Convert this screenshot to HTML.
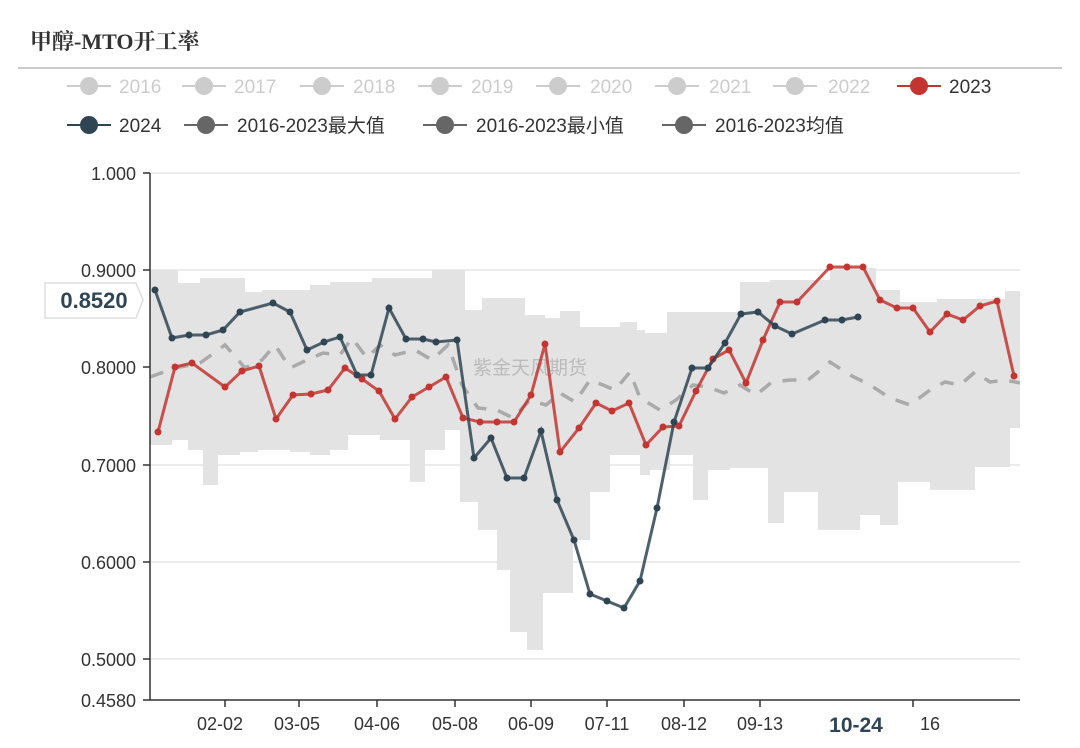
<!DOCTYPE html>
<html><head><meta charset="utf-8"><style>
body{margin:0;background:#fff;}
svg text{font-family:"Liberation Sans","Noto Sans CJK SC",sans-serif;}
</style></head><body>
<svg width="1080" height="743" viewBox="0 0 1080 743" xmlns="http://www.w3.org/2000/svg">
<text x="30" y="49" font-size="22" font-weight="bold" fill="#333" style="font-family:'Liberation Serif','Noto Serif CJK SC',serif">甲醇-MTO开工率</text>
<line x1="18" y1="68" x2="1062" y2="68" stroke="#bbb" stroke-width="1.5"/>
<g font-size="19" fill="#ccc">
<g><line x1="67" y1="86" x2="111" y2="86" stroke="#ccc" stroke-width="2"/><circle cx="89" cy="86" r="9" fill="#ccc"/><text x="119" y="93">2016</text></g>
<g><line x1="182" y1="86" x2="226" y2="86" stroke="#ccc" stroke-width="2"/><circle cx="204" cy="86" r="9" fill="#ccc"/><text x="234" y="93">2017</text></g>
<g><line x1="300" y1="86" x2="344" y2="86" stroke="#ccc" stroke-width="2"/><circle cx="322" cy="86" r="9" fill="#ccc"/><text x="353" y="93">2018</text></g>
<g><line x1="418" y1="86" x2="462" y2="86" stroke="#ccc" stroke-width="2"/><circle cx="440" cy="86" r="9" fill="#ccc"/><text x="471" y="93">2019</text></g>
<g><line x1="536" y1="86" x2="580" y2="86" stroke="#ccc" stroke-width="2"/><circle cx="558" cy="86" r="9" fill="#ccc"/><text x="590" y="93">2020</text></g>
<g><line x1="655" y1="86" x2="699" y2="86" stroke="#ccc" stroke-width="2"/><circle cx="677" cy="86" r="9" fill="#ccc"/><text x="709" y="93">2021</text></g>
<g><line x1="773" y1="86" x2="817" y2="86" stroke="#ccc" stroke-width="2"/><circle cx="795" cy="86" r="9" fill="#ccc"/><text x="828" y="93">2022</text></g>
<g><line x1="897" y1="86" x2="941" y2="86" stroke="#c23531" stroke-width="2"/><circle cx="919" cy="86" r="9" fill="#c23531"/><text x="949" y="93" fill="#333">2023</text></g>
<g><line x1="67" y1="125" x2="111" y2="125" stroke="#2f4554" stroke-width="2"/><circle cx="89" cy="125" r="9" fill="#2f4554"/><text x="119" y="132" fill="#333">2024</text></g>
<g><line x1="184" y1="125" x2="228" y2="125" stroke="#666" stroke-width="2"/><circle cx="206" cy="125" r="9" fill="#666"/><text x="237" y="132" fill="#333">2016-2023最大值</text></g>
<g><line x1="423" y1="125" x2="467" y2="125" stroke="#666" stroke-width="2"/><circle cx="445" cy="125" r="9" fill="#666"/><text x="476" y="132" fill="#333">2016-2023最小值</text></g>
<g><line x1="662" y1="125" x2="706" y2="125" stroke="#666" stroke-width="2"/><circle cx="684" cy="125" r="9" fill="#666"/><text x="715" y="132" fill="#333">2016-2023均值</text></g>
</g>
<g stroke="#e6e6e6" stroke-width="1.5">
<line x1="150" y1="173" x2="1020" y2="173"/><line x1="150" y1="270" x2="1020" y2="270"/><line x1="150" y1="367" x2="1020" y2="367"/><line x1="150" y1="465" x2="1020" y2="465"/><line x1="150" y1="562" x2="1020" y2="562"/><line x1="150" y1="659" x2="1020" y2="659"/>
</g>
<path fill="#e3e3e3" d="M150,270 H178 V283 H200 V278 H245 V292 H262 V290 H310 V285 H330 V282 H372 V278 H432 V270 H465 V310 H482 V298 H525 V315 H545 V318 H560 V311 H580 V327 H620 V322 H637 V330 H645 V333 H667 V312 H740 V282 H770 V280 H830 V268 H876 V290 H900 V302 H937 V299 H1005 V291 H1020 V428 H1010 V467 H975 V490 H930 V482 H898 V525 H880 V515 H860 V530 H818 V492 H784 V523 H768 V468 H730 V470 H708 V500 H693 V455 H670 V470 H650 V475 H640 V455 H610 V492 H590 V540 H573 V593 H543 V650 H527 V632 H510 V570 H497 V530 H478 V502 H460 V430 H445 V450 H425 V482 H410 V440 H380 V435 H348 V450 H330 V455 H310 V452 H290 V450 H258 V452 H240 V455 H218 V485 H203 V450 H188 V440 H172 V445 H150 Z"/>
<text x="473" y="374" font-size="19" fill="#bbb">紫金天风期货</text>
<polyline fill="none" stroke="#aaa" stroke-width="3.5" stroke-dasharray="14,12" points="150,377 175,368 200,363 225,345 245,368 262,360 275,345 290,368 307,360 323,353 340,355 352,338 367,358 380,345 395,355 415,350 432,360 448,345 462,385 478,408 497,410 513,418 530,400 546,405 560,393 575,402 590,380 603,385 615,390 630,372 640,398 660,410 676,400 693,385 708,387 724,393 740,385 756,395 772,382 790,380 808,380 830,362 850,375 870,385 890,398 910,405 930,390 945,382 960,385 975,372 990,382 1005,380 1020,383"/>
<polyline fill="none" stroke="#c23531" stroke-opacity="0.85" stroke-width="3" points="158,432 175,367 192,363 225,387 242,371 259,366 276,419 293,395 311,394 328,390 345,368 362,379 379,391 395,419 412,397 429,387 446,377 463,418 480,422 497,422 514,422 531,395 545,344 560,452 579,428 596,403 612,411 629,403 646,445 663,427 679,426 696,391 713,359 729,350 746,383 763,340 780,302 797,302 830,267 847,267 863,267 880,300 897,308 913,308 930,332 947,314 963,320 980,306 997,301 1014,376"/>
<g fill="#c23531">
<circle cx="158" cy="432" r="3.5"/><circle cx="175" cy="367" r="3.5"/><circle cx="192" cy="363" r="3.5"/><circle cx="225" cy="387" r="3.5"/><circle cx="242" cy="371" r="3.5"/><circle cx="259" cy="366" r="3.5"/><circle cx="276" cy="419" r="3.5"/><circle cx="293" cy="395" r="3.5"/><circle cx="311" cy="394" r="3.5"/><circle cx="328" cy="390" r="3.5"/><circle cx="345" cy="368" r="3.5"/><circle cx="362" cy="379" r="3.5"/><circle cx="379" cy="391" r="3.5"/><circle cx="395" cy="419" r="3.5"/><circle cx="412" cy="397" r="3.5"/><circle cx="429" cy="387" r="3.5"/><circle cx="446" cy="377" r="3.5"/><circle cx="463" cy="418" r="3.5"/><circle cx="480" cy="422" r="3.5"/><circle cx="497" cy="422" r="3.5"/><circle cx="514" cy="422" r="3.5"/><circle cx="531" cy="395" r="3.5"/><circle cx="545" cy="344" r="3.5"/><circle cx="560" cy="452" r="3.5"/><circle cx="579" cy="428" r="3.5"/><circle cx="596" cy="403" r="3.5"/><circle cx="612" cy="411" r="3.5"/><circle cx="629" cy="403" r="3.5"/><circle cx="646" cy="445" r="3.5"/><circle cx="663" cy="427" r="3.5"/><circle cx="679" cy="426" r="3.5"/><circle cx="696" cy="391" r="3.5"/><circle cx="713" cy="359" r="3.5"/><circle cx="729" cy="350" r="3.5"/><circle cx="746" cy="383" r="3.5"/><circle cx="763" cy="340" r="3.5"/><circle cx="780" cy="302" r="3.5"/><circle cx="797" cy="302" r="3.5"/><circle cx="830" cy="267" r="3.5"/><circle cx="847" cy="267" r="3.5"/><circle cx="863" cy="267" r="3.5"/><circle cx="880" cy="300" r="3.5"/><circle cx="897" cy="308" r="3.5"/><circle cx="913" cy="308" r="3.5"/><circle cx="930" cy="332" r="3.5"/><circle cx="947" cy="314" r="3.5"/><circle cx="963" cy="320" r="3.5"/><circle cx="980" cy="306" r="3.5"/><circle cx="997" cy="301" r="3.5"/><circle cx="1014" cy="376" r="3.5"/>
</g>
<polyline fill="none" stroke="#2f4554" stroke-opacity="0.85" stroke-width="3" points="155,290 172,338 189,335 206,335 223,330 240,312 273,303 290,312 307,350 324,342 340,337 357,375 371,375 389,308 406,339 423,339 436,342 457,340 474,458 491,438 507,478 524,478 541,431 557,500 574,540 590,594 607,601 624,608 640,581 657,508 674,422 692,368 708,368 725,343 741,314 758,312 775,326 792,334 825,320 842,320 858,317"/>
<g fill="#2f4554">
<circle cx="155" cy="290" r="3.5"/><circle cx="172" cy="338" r="3.5"/><circle cx="189" cy="335" r="3.5"/><circle cx="206" cy="335" r="3.5"/><circle cx="223" cy="330" r="3.5"/><circle cx="240" cy="312" r="3.5"/><circle cx="273" cy="303" r="3.5"/><circle cx="290" cy="312" r="3.5"/><circle cx="307" cy="350" r="3.5"/><circle cx="324" cy="342" r="3.5"/><circle cx="340" cy="337" r="3.5"/><circle cx="357" cy="375" r="3.5"/><circle cx="371" cy="375" r="3.5"/><circle cx="389" cy="308" r="3.5"/><circle cx="406" cy="339" r="3.5"/><circle cx="423" cy="339" r="3.5"/><circle cx="436" cy="342" r="3.5"/><circle cx="457" cy="340" r="3.5"/><circle cx="474" cy="458" r="3.5"/><circle cx="491" cy="438" r="3.5"/><circle cx="507" cy="478" r="3.5"/><circle cx="524" cy="478" r="3.5"/><circle cx="541" cy="431" r="3.5"/><circle cx="557" cy="500" r="3.5"/><circle cx="574" cy="540" r="3.5"/><circle cx="590" cy="594" r="3.5"/><circle cx="607" cy="601" r="3.5"/><circle cx="624" cy="608" r="3.5"/><circle cx="640" cy="581" r="3.5"/><circle cx="657" cy="508" r="3.5"/><circle cx="674" cy="422" r="3.5"/><circle cx="692" cy="368" r="3.5"/><circle cx="708" cy="368" r="3.5"/><circle cx="725" cy="343" r="3.5"/><circle cx="741" cy="314" r="3.5"/><circle cx="758" cy="312" r="3.5"/><circle cx="775" cy="326" r="3.5"/><circle cx="792" cy="334" r="3.5"/><circle cx="825" cy="320" r="3.5"/><circle cx="842" cy="320" r="3.5"/><circle cx="858" cy="317" r="3.5"/>
</g>
<g stroke="#333" stroke-width="1.5">
<line x1="150" y1="173" x2="150" y2="700"/><line x1="150" y1="700" x2="1020" y2="700"/>
<line x1="143" y1="173" x2="150" y2="173"/><line x1="143" y1="270" x2="150" y2="270"/><line x1="143" y1="367" x2="150" y2="367"/><line x1="143" y1="465" x2="150" y2="465"/><line x1="143" y1="562" x2="150" y2="562"/><line x1="143" y1="659" x2="150" y2="659"/><line x1="143" y1="700" x2="150" y2="700"/>
<line x1="225" y1="700" x2="225" y2="707"/><line x1="299" y1="700" x2="299" y2="707"/><line x1="377" y1="700" x2="377" y2="707"/><line x1="455" y1="700" x2="455" y2="707"/><line x1="531" y1="700" x2="531" y2="707"/><line x1="607" y1="700" x2="607" y2="707"/><line x1="684" y1="700" x2="684" y2="707"/><line x1="760" y1="700" x2="760" y2="707"/><line x1="913" y1="700" x2="913" y2="707"/>
</g>
<g font-size="18" fill="#333" text-anchor="end">
<text x="136" y="180">1.000</text><text x="136" y="277">0.9000</text><text x="136" y="374">0.8000</text><text x="136" y="472">0.7000</text><text x="136" y="569">0.6000</text><text x="136" y="666">0.5000</text><text x="136" y="707">0.4580</text>
</g>
<path d="M45,283 H136 L143,300 L136,318 H45 Z" fill="#fff" stroke="#ddd" stroke-width="1.5"/>
<text x="94" y="308" font-size="22" font-weight="bold" fill="#2f4554" text-anchor="middle">0.8520</text>
<g font-size="18" fill="#333" text-anchor="middle">
<text x="220" y="730">02-02</text><text x="297" y="730">03-05</text><text x="377" y="730">04-06</text><text x="455" y="730">05-08</text><text x="531" y="730">06-09</text><text x="607" y="730">07-11</text><text x="684" y="730">08-12</text><text x="760" y="730">09-13</text><text x="930" y="730">16</text>
<text x="856" y="732" font-weight="bold" font-size="21" fill="#2f4554">10-24</text>
</g>
</svg>
</body></html>
